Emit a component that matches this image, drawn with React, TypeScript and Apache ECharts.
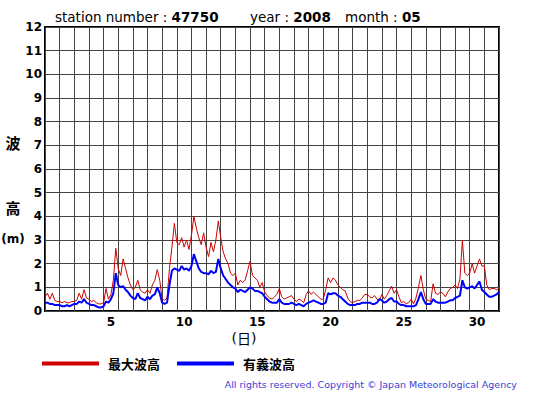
import React, { useEffect, useRef } from "react";
import * as echarts from "echarts";

// Day labels for the x axis (categories)
const dayLabels: string[] = Array.from({ length: 31 }, (_, i) => String(i + 1));
const shownDayLabels: string[] = ["5", "10", "15", "20", "25", "30"];
const yTicks: number[] = [0, 1, 2, 3, 4, 5, 6, 7, 8, 9, 10, 11, 12];

// samples every 4 hours (6 per day), May 2008, station 47750
const maxWave: number[] = [
  0.6, 0.75, 0.5, 0.75, 0.45, 0.4,
  0.4, 0.35, 0.4, 0.35, 0.35, 0.4,
  0.4, 0.45, 0.75, 0.5, 0.9, 0.55,
  0.5, 0.4, 0.45, 0.35, 0.3, 0.3,
  0.35, 0.95, 0.5, 0.7, 1.3, 2.65,
  1.8, 1.5, 2.2, 1.8, 1.4, 1.1,
  0.9, 1.0, 1.3, 0.9, 0.8, 0.75,
  0.9, 0.75, 1.1, 1.3, 1.75, 1.3,
  0.5, 0.45, 0.55, 1.8, 2.7, 3.7,
  2.9, 2.8, 3.1, 2.7, 3.0, 2.6,
  3.2, 4.0, 3.5, 3.1, 2.8, 3.3,
  2.7, 2.3, 2.9, 2.5, 3.0, 3.8,
  3.1, 2.5, 2.2, 2.0, 1.6, 1.5,
  1.6, 1.1, 1.3, 1.2, 1.3, 1.7,
  2.1, 1.5, 1.4, 1.3, 1.0, 1.2,
  0.8, 0.65, 0.55, 0.5, 0.6, 0.7,
  0.95, 0.6, 0.5, 0.55, 0.6, 0.65,
  0.5, 0.4, 0.5, 0.45, 0.35, 0.7,
  0.85, 0.7, 0.8, 0.7, 0.6, 0.5,
  0.5, 0.9, 1.4, 1.2, 1.4, 1.3,
  1.1, 1.0, 0.9, 0.85, 0.55, 0.4,
  0.35, 0.4, 0.45, 0.45, 0.55, 0.7,
  0.7, 0.6, 0.55, 0.65, 0.5, 0.45,
  0.7, 0.5, 0.65, 0.85, 1.05, 0.75,
  0.9, 0.6, 0.35, 0.4, 0.3, 0.35,
  0.5, 0.3, 0.55, 1.0, 1.5, 0.9,
  0.5, 0.45, 0.4, 1.15, 0.75, 0.7,
  0.8, 0.75, 0.6, 0.8, 0.95, 1.0,
  1.1, 0.95, 1.35, 3.0, 1.6, 1.5,
  1.6, 2.0, 1.6, 1.9, 2.2, 1.9,
  1.9, 1.1, 0.9, 0.95, 0.95, 0.9,
  0.95,
];

const sigWave: number[] = [
  0.35, 0.35, 0.3, 0.3, 0.25, 0.25,
  0.25, 0.2, 0.2, 0.25, 0.2, 0.25,
  0.3, 0.3, 0.4, 0.35, 0.5, 0.35,
  0.3, 0.25, 0.25, 0.2, 0.15, 0.15,
  0.2, 0.4, 0.35, 0.5, 0.75, 1.6,
  1.1, 1.0, 1.05, 0.9, 0.8, 0.65,
  0.55, 0.5, 0.75, 0.55, 0.5, 0.45,
  0.6, 0.5, 0.65, 0.7, 1.0, 0.75,
  0.35, 0.3, 0.35, 1.1, 1.7, 1.8,
  1.75, 1.7, 1.9, 1.75, 1.8, 1.7,
  1.9, 2.4, 2.1, 1.8, 1.65, 1.6,
  1.6, 1.55, 1.7, 1.6, 1.65, 2.2,
  1.8, 1.5, 1.35, 1.2, 1.1, 1.0,
  0.95, 0.8, 0.9, 0.85, 0.8, 0.9,
  1.0, 0.95, 0.85, 0.85, 0.8, 0.75,
  0.6, 0.5, 0.4, 0.35, 0.35, 0.35,
  0.5, 0.35, 0.3, 0.3, 0.3, 0.35,
  0.3, 0.25, 0.3, 0.25, 0.2, 0.3,
  0.35, 0.4, 0.45, 0.4, 0.35, 0.3,
  0.3, 0.35, 0.75, 0.7, 0.75, 0.75,
  0.65, 0.6, 0.5, 0.4, 0.3, 0.25,
  0.25, 0.25, 0.3, 0.3, 0.35, 0.35,
  0.35, 0.35, 0.3, 0.3, 0.35, 0.5,
  0.45, 0.35, 0.4, 0.5, 0.55, 0.4,
  0.4, 0.3, 0.25, 0.25, 0.2, 0.2,
  0.2, 0.2, 0.25, 0.5, 0.8, 0.5,
  0.3, 0.3, 0.3, 0.5, 0.4, 0.35,
  0.35, 0.35, 0.35, 0.4, 0.45, 0.45,
  0.55, 0.6, 0.65, 1.3, 1.0, 0.95,
  1.0, 1.05, 0.95, 1.1, 1.25, 0.9,
  0.8, 0.7, 0.6, 0.6, 0.65, 0.7,
  0.8,
];

const SAMPLES_PER_DAY = 6;
const FONT = "DejaVu Sans";
const CJK = "Noto Sans CJK JP";

export default function App() {
  const ref = useRef<HTMLDivElement>(null);

  useEffect(() => {
    if (!ref.current) return;
    const chart = echarts.init(ref.current, undefined, { renderer: "svg" });
    const toPairs = (arr: number[]) => arr.map((v, i) => [i / SAMPLES_PER_DAY, v]);

    const titleRich = {
      a: { fontFamily: FONT, fontSize: 13.5, fill: "#000" },
      b: { fontFamily: FONT, fontSize: 13.5, fontWeight: "bold", fill: "#000" },
    };

    chart.setOption({
      animation: false,
      backgroundColor: "#fff",
      grid: {
        left: 45,
        top: 27,
        width: 454,
        height: 284,
        show: true,
        borderColor: "#000",
        borderWidth: 2,
        backgroundColor: "transparent",
      },
      xAxis: [
        {
          type: "value",
          min: 0,
          max: 31,
          interval: 1,
          axisLine: { show: false },
          axisTick: { show: false },
          axisLabel: { show: false },
          splitLine: { show: true, lineStyle: { color: "#444", width: 1 } },
        },
        {
          type: "category",
          data: dayLabels,
          boundaryGap: true,
          position: "bottom",
          axisLine: { show: false },
          axisTick: { show: false },
          splitLine: { show: false },
          axisLabel: {
            interval: (_i: number, v: string) => shownDayLabels.includes(v),
            color: "#000",
            fontFamily: FONT,
            fontWeight: "bold",
            fontSize: 12,
            margin: 5,
          },
        },
      ],
      yAxis: {
        type: "value",
        min: yTicks[0],
        max: yTicks[yTicks.length - 1],
        interval: 1,
        axisLine: { show: false },
        axisTick: { show: false },
        axisLabel: {
          color: "#000",
          fontFamily: FONT,
          fontWeight: "bold",
          fontSize: 12,
          margin: 3,
        },
        splitLine: { show: true, lineStyle: { color: "#444", width: 1 } },
      },
      legend: {
        data: ["最大波高", "有義波高"],
        left: 37,
        top: 352,
        icon: "rect",
        itemWidth: 57,
        itemHeight: 4,
        itemGap: 17,
        textStyle: {
          color: "#000",
          fontFamily: CJK,
          fontWeight: "bold",
          fontSize: 13,
          padding: [0, 0, 0, 4],
        },
      },
      series: [
        {
          name: "最大波高",
          type: "line",
          xAxisIndex: 0,
          data: toPairs(maxWave),
          showSymbol: false,
          symbol: "none",
          lineStyle: { color: "#cc0000", width: 1 },
          itemStyle: { color: "#cc0000" },
          z: 3,
        },
        {
          name: "有義波高",
          type: "line",
          xAxisIndex: 0,
          data: toPairs(sigWave),
          showSymbol: false,
          symbol: "none",
          lineStyle: { color: "#0000ff", width: 2 },
          itemStyle: { color: "#0000ff" },
          z: 4,
        },
      ],
      graphic: [
        {
          type: "text",
          x: 55,
          y: 17,
          style: { text: "{a|station number : }{b|47750}", verticalAlign: "middle", rich: titleRich },
        },
        {
          type: "text",
          x: 250,
          y: 17,
          style: { text: "{a|year : }{b|2008}", verticalAlign: "middle", rich: titleRich },
        },
        {
          type: "text",
          x: 345,
          y: 17,
          style: { text: "{a|month : }{b|05}", verticalAlign: "middle", rich: titleRich },
        },
        {
          type: "text",
          x: 13,
          y: 142,
          style: {
            text: "波",
            align: "center",
            verticalAlign: "middle",
            fontFamily: CJK,
            fontWeight: "bold",
            fontSize: 15,
            fill: "#000",
          },
        },
        {
          type: "text",
          x: 13,
          y: 207,
          style: {
            text: "高",
            align: "center",
            verticalAlign: "middle",
            fontFamily: CJK,
            fontWeight: "bold",
            fontSize: 15,
            fill: "#000",
          },
        },
        {
          type: "text",
          x: 13,
          y: 239,
          style: {
            text: "(m)",
            align: "center",
            verticalAlign: "middle",
            fontFamily: FONT,
            fontWeight: "bold",
            fontSize: 12,
            fill: "#000",
          },
        },
        {
          type: "text",
          x: 244,
          y: 338,
          style: {
            text: "{p|(}{c|日}{p|)}",
            align: "center",
            verticalAlign: "middle",
            rich: {
              p: { fontFamily: FONT, fontSize: 14, fill: "#000" },
              c: { fontFamily: CJK, fontSize: 14, fill: "#000" },
            },
          },
        },
        {
          type: "text",
          x: 517,
          y: 384,
          style: {
            text: "All rights reserved. Copyright © Japan Meteorological Agency",
            align: "right",
            verticalAlign: "middle",
            fontFamily: FONT,
            fontSize: 9.5,
            fill: "#4040d8",
          },
        },
      ],
    });

    return () => chart.dispose();
  }, []);

  return (
    <div
      ref={ref}
      style={{ position: "fixed", left: 0, top: 0, width: 555, height: 395, background: "#fff" }}
    />
  );
}
